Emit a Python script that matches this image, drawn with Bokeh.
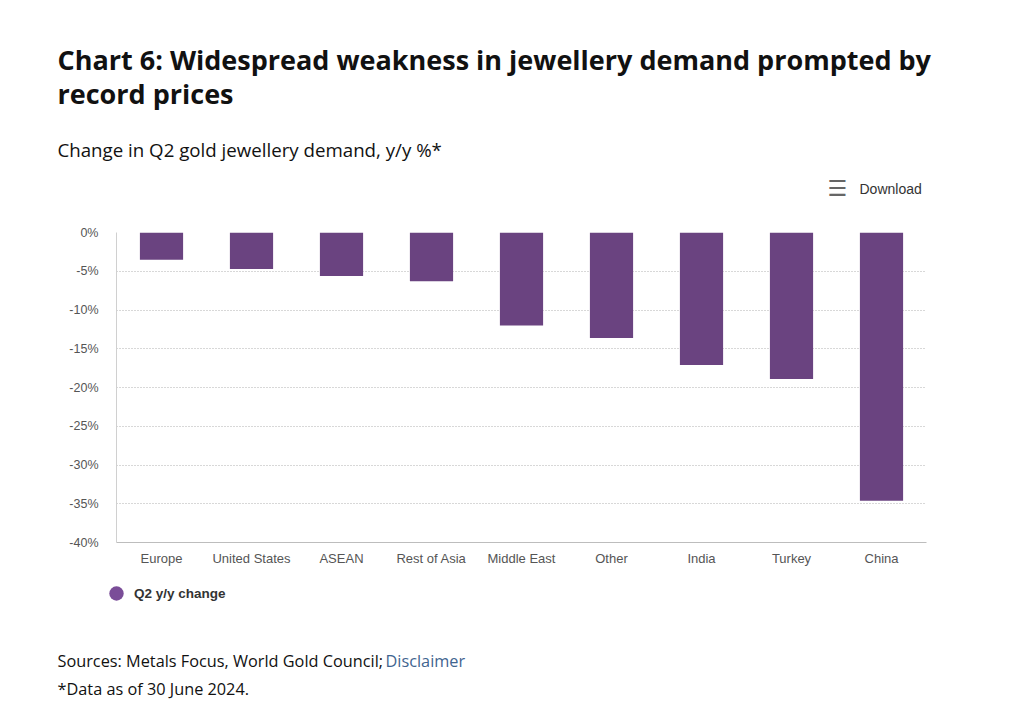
from bokeh.plotting import figure
from bokeh.layouts import column
from bokeh.models import (Label, Legend, LegendItem, FixedTicker, PrintfTickFormatter,
                          ColumnDataSource, Range1d)
from bokeh.embed import file_html
from bokeh.resources import INLINE

categories = ["Europe", "United States", "ASEAN", "Rest of Asia", "Middle East",
              "Other", "India", "Turkey", "China"]
values = [-3.5, -4.7, -5.6, -6.3, -12.0, -13.6, -17.1, -18.9, -34.6]
y_ticks = [0, -5, -10, -15, -20, -25, -30, -35, -40]
series_name = "Q2 y/y change"

W, H = 1024, 718
TOP_H = 205          # header strip height
MAIN_H = 370         # chart strip height (frame 232..542 on the page)
BOT_H = H - TOP_H - MAIN_H
BAR = "#6a4380"


def text_strip(h):
    f = figure(width=W, height=h, x_range=Range1d(0, W), y_range=Range1d(h, 0),
               output_backend="svg", toolbar_location=None,
               x_axis_location=None, y_axis_location=None,
               min_border=0, min_border_left=0, min_border_right=0,
               min_border_top=0, min_border_bottom=0)
    f.frame_align = False
    f.outline_line_color = None
    f.grid.visible = False
    f.background_fill_color = "white"
    f.border_fill_color = "white"
    return f


def lab(f, text, x, y, size, font="Open Sans", style="normal", color="#111111"):
    f.add_layout(Label(x=x, y=y, text=text, text_font=font, text_font_size=size,
                       text_font_style=style, text_color=color,
                       text_baseline="middle", text_align="left"))


# ---- header ----
top = text_strip(TOP_H)
lab(top, "Chart 6: Widespread weakness in jewellery demand prompted by", 57, 59, "27px", style="bold")
lab(top, "record prices", 57, 93, "27px", style="bold")
lab(top, "Change in Q2 gold jewellery demand, y/y %*", 57, 149, "18.7px")
lab(top, "\u2630", 827, 188, "22px", font="DejaVu Sans", style="bold", color="#666666")
lab(top, "Download", 859, 188, "14px", font="Liberation Sans", color="#333333")

# ---- chart ----
p = figure(x_range=categories, y_range=Range1d(-40, 0), width=W, height=MAIN_H,
           output_backend="svg", toolbar_location=None,
           min_border_left=116, min_border_right=98,
           min_border_top=232 - TOP_H, min_border_bottom=TOP_H + MAIN_H - 542)
p.frame_align = False
p.background_fill_color = "white"
p.border_fill_color = "white"
p.outline_line_color = None

src = ColumnDataSource(dict(cat=categories, val=values))
p.vbar(x="cat", top="val", bottom=0, width=0.48, source=src,
       fill_color=BAR, line_color=None)

p.xgrid.grid_line_color = None
p.ygrid.grid_line_color = "#b0b0b0"
p.ygrid.grid_line_dash = "1 2"
p.ygrid.grid_line_width = 1

p.yaxis.ticker = FixedTicker(ticks=y_ticks)
p.yaxis.formatter = PrintfTickFormatter(format="%d%%")
p.yaxis.axis_line_color = "#d0d0d0"
p.yaxis.major_tick_line_color = None
p.yaxis.minor_tick_line_color = None
p.yaxis.major_label_text_font = "Liberation Sans"
p.yaxis.major_label_text_font_size = "12.5px"
p.yaxis.major_label_text_color = "#555555"
p.yaxis.major_label_standoff = 12

p.xaxis.axis_line_color = "#bdbdbd"
p.xaxis.major_tick_line_color = None
p.xaxis.minor_tick_line_color = None
p.xaxis.major_tick_out = 0
p.xaxis.major_label_text_font = "Liberation Sans"
p.xaxis.major_label_text_font_size = "13px"
p.xaxis.major_label_text_color = "#555555"
p.xaxis.major_label_standoff = 8

# ---- footer: legend + sources ----
bot = text_strip(BOT_H)
leg_src = ColumnDataSource(dict(x=[0.0], y=[float("nan")]))
leg_r = bot.scatter(x="x", y="y", source=leg_src, marker="circle", size=14,
                    fill_color="#7a4d98", line_color=None)
legend = Legend(items=[LegendItem(label=series_name, renderers=[leg_r], index=0)],
                location=(98, BOT_H - 36), orientation="horizontal",
                border_line_color=None, background_fill_alpha=0,
                label_text_font="Liberation Sans", label_text_font_style="bold",
                label_text_font_size="13.5px", label_text_color="#333333",
                glyph_width=36, glyph_height=36, label_standoff=-4,
                label_height=36, padding=0, margin=0, spacing=0)
bot.add_layout(legend, "center")

y0 = TOP_H + MAIN_H
lab(bot, "Sources: Metals Focus, World Gold Council;", 57, 660 - y0, "16.3px")
lab(bot, "Disclaimer", 385, 660 - y0, "16.3px", color="#3f6590")
lab(bot, "*Data as of 30 June 2024.", 57, 688 - y0, "16.3px")

layout = column(top, p, bot, spacing=0)
open("out.html", "w").write(file_html(layout, INLINE))
